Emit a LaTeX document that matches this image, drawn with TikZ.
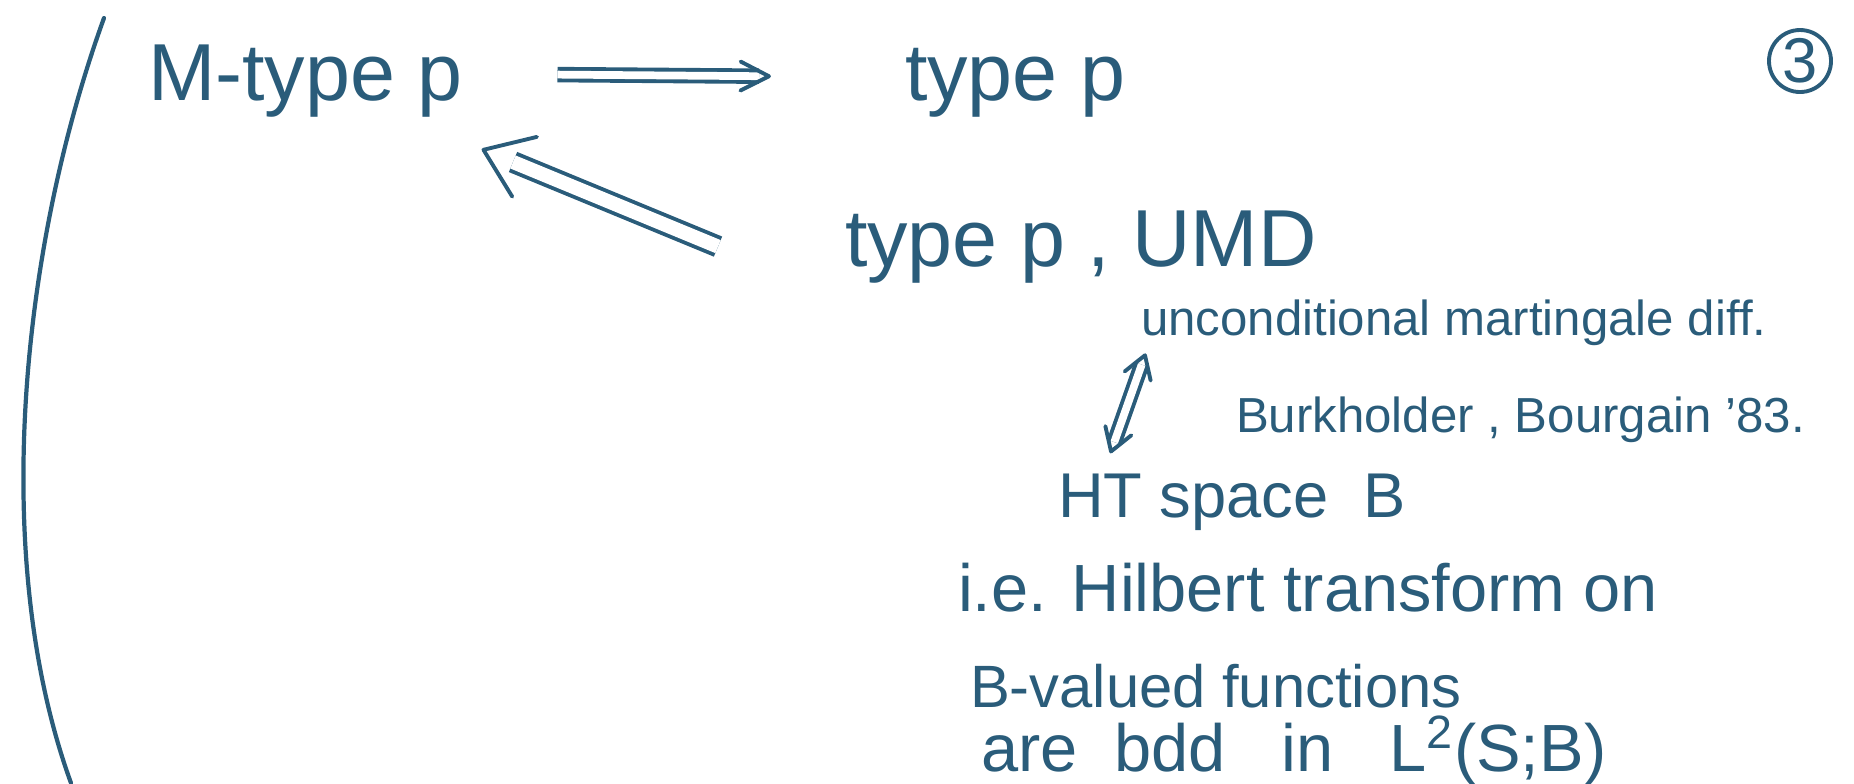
\documentclass[tikz,border=0pt]{standalone}
\usepackage{fontspec}
\setmainfont{Liberation Sans}
\usetikzlibrary{calc}
\definecolor{ink}{RGB}{42,92,122}
\newcommand\openhead[4]{\draw[ink, line width=1.1pt, line cap=round, line join=round]
  ($(#1)!#3!#4:(#2)$) -- (#1) -- ($(#1)!#3!-#4:(#2)$);}
\begin{document}
\begin{tikzpicture}[x=0.1mm,y=-0.1mm,
  every node/.style={inner sep=0pt, outer sep=0pt, text=ink, anchor=base west},
  big/.style={font=\fontsize{23}{27}\selectfont},
  note/.style={font=\fontsize{14}{17}\selectfont},
  htsz/.style={font=\fontsize{18}{22}\selectfont},
  iesz/.style={font=\fontsize{19}{23}\selectfont},
  bvsz/.style={font=\fontsize{17}{21}\selectfont},
  dbl/.style={draw=ink, double=white, line width=1.1pt, line cap=butt}]
\useasboundingbox (0,0) rectangle (1854,783);
% text
\node[big] (mtp) at (148,100) {M-type p};
\node[big] (tp) at (905,100) {type p};
\node[big] (tpu) at (845,266) {type p , UMD};
\node[note] (unc) at (1141,335) {unconditional martingale diff.};
\node[note] (bb) at (1236,432) {Burkholder , Bourgain ’83.};
\node[htsz] (hts) at (1058,517) {HT space\ \ B};
\node[iesz] (ie) at (958,611) {i.e. Hilbert transform on};
\node[bvsz] (bv) at (970,707) {B-valued functions};
\node[iesz] (bdd) at (981,771) {are\ \ bdd\ \ \ in\ \ \ L\textsuperscript{2}(S;B)};
% circled page number
\node[circle, draw=ink, line width=1.1pt, minimum size=6.2mm, anchor=center,
      font=\fontsize{18}{18}\selectfont] (pg) at (1800,61) {3};
% big left bracket
\draw[ink, line width=1.2pt, line cap=round] (104,18) .. controls (20,250) and (-10,560) .. (71,783);
% connector end points, tied to the nodes
\coordinate (r0) at ([shift={(95,-6)}]mtp.east);
\coordinate (r1) at ([shift={(-136,-6)}]tp.west);
\coordinate (d0) at ([shift={(-127,0)}]tpu.west);
\coordinate (d1) at ([shift={(21,33)}]mtp.south east);
\coordinate (v0) at ([shift={(4,10)}]unc.south west);
\coordinate (v1) at ([shift={(53,-22)}]hts.north west);
% M-type p => type p
\draw[dbl, double distance=2.2pt, shorten >=1mm] (r0) -- (r1);
\openhead{r1}{r0}{3.2mm}{27}
% type p, UMD => M-type p
\draw[dbl, double distance=4pt, shorten >=3.2mm] (d0) -- (d1);
\openhead{d1}{d0}{5.5mm}{36}
% <=> between UMD and HT
\draw[dbl, double distance=2.2pt, shorten >=1mm, shorten <=1mm] (v0) -- (v1);
\openhead{v0}{v1}{2.6mm}{32}
\openhead{v1}{v0}{2.6mm}{32}
\end{tikzpicture}
\end{document}
